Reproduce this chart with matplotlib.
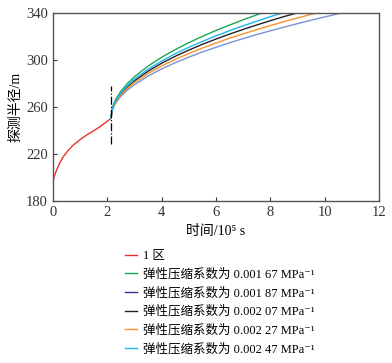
import matplotlib
matplotlib.use("Agg")
import matplotlib.pyplot as plt

plt.rcParams['font.family'] = ['Liberation Serif', 'Noto Sans CJK SC', 'DejaVu Sans']

# zone 1 (red)
t_red = [0, 0.05, 0.135, 0.25, 0.38, 0.55, 0.75, 1.0, 1.24, 1.5, 1.73, 2.0, 2.13]
r_red = [196.4, 201.0, 206.4, 212.5, 217.7, 222.8, 227.7, 232.3, 236.2, 239.9, 243.2, 248.0, 250.4]

# zone 2, different compressibility
t_167 = [2.13, 2.2, 2.3, 2.5, 2.75, 3.0, 3.5, 4.0, 4.5, 5.0, 5.5, 6.0, 6.5, 7.0, 7.5, 7.68]
r_167 = [250.4, 260.5, 266.1, 273.5, 280.3, 285.8, 294.9, 302.4, 308.9, 314.8, 320.2, 325.2, 329.8, 334.3, 338.5, 340.0]

t_187 = [2.13, 2.2, 2.3, 2.5, 2.75, 3.0, 3.5, 4.0, 4.5, 5.0, 5.5, 6.0, 6.5, 7.0, 7.5, 8.0, 8.5, 9.0, 9.5, 10.0, 10.5, 10.62]
r_187 = [250.4, 258.5, 263.1, 269.1, 274.6, 279.1, 286.4, 292.5, 297.7, 302.5, 306.9, 310.9, 314.7, 318.3, 321.7, 324.9, 328.0, 331.0, 333.9, 336.7, 339.4, 340.0]

t_207 = [2.13, 2.2, 2.3, 2.5, 2.75, 3.0, 3.5, 4.0, 4.5, 5.0, 5.5, 6.0, 6.5, 7.0, 7.5, 8.0, 8.5, 8.97]
r_207 = [250.4, 259.5, 264.5, 271.3, 277.4, 282.4, 290.5, 297.3, 303.2, 308.5, 313.4, 317.9, 322.1, 326.1, 329.9, 333.5, 337.0, 340.0]

t_227 = [2.13, 2.2, 2.3, 2.5, 2.75, 3.0, 3.5, 4.0, 4.5, 5.0, 5.5, 6.0, 6.5, 7.0, 7.5, 8.0, 8.5, 9.0, 9.5, 9.7]
r_227 = [250.4, 259.0, 263.8, 270.2, 276.1, 280.8, 288.6, 295.0, 300.6, 305.6, 310.2, 314.5, 318.6, 322.3, 325.9, 329.4, 332.7, 335.8, 338.9, 340.0]

t_247 = [2.13, 2.2, 2.3, 2.5, 2.75, 3.0, 3.5, 4.0, 4.5, 5.0, 5.5, 6.0, 6.5, 7.0, 7.5, 8.0, 8.42]
r_247 = [250.4, 259.8, 265.1, 272.1, 278.5, 283.7, 292.2, 299.2, 305.4, 310.9, 315.9, 320.6, 325.0, 329.2, 333.1, 336.9, 340.0]

labels = ['1 区',
          '弹性压缩系数为 0.001 67 MPa⁻¹',
          '弹性压缩系数为 0.001 87 MPa⁻¹',
          '弹性压缩系数为 0.002 07 MPa⁻¹',
          '弹性压缩系数为 0.002 27 MPa⁻¹',
          '弹性压缩系数为 0.002 47 MPa⁻¹']

t_break = 2.13
break_span = [229, 278]

fig = plt.figure(figsize=(3.92, 3.63), dpi=100)
ax = fig.add_axes([0.135, 0.446, 0.832, 0.518])

lw = 1.0
ax.plot(t_red, r_red, color='#e8322d', lw=lw, label=labels[0])
ax.plot(t_167, r_167, color='#1aa655', lw=lw, label=labels[1])
ax.plot(t_187, r_187, color='#7b93d6', lw=lw, label=labels[2])
ax.plot(t_207, r_207, color='#222222', lw=lw, label=labels[3])
ax.plot(t_227, r_227, color='#f7912f', lw=lw, label=labels[4])
ax.plot(t_247, r_247, color='#1eb4f0', lw=lw, label=labels[5])
ax.plot([t_break, t_break], break_span, color='black', lw=0.9, ls='-.')

ax.set_xlim(0, 12)
ax.set_ylim(180, 340)
ax.set_xticks(range(0, 13, 2))
ax.set_yticks(range(180, 341, 40))
ax.tick_params(direction='in', length=3, width=0.8, labelsize=10.5, colors='#333333')
for s in ax.spines.values():
    s.set_color('#555555')
    s.set_linewidth(1.0)

ax.set_xlabel('时间/10⁵ s', fontsize=10, labelpad=4)
ax.set_ylabel('探测半径/m', fontsize=10, labelpad=3)

leg = fig.legend(loc='upper left', bbox_to_anchor=(0.305, 0.325), frameon=False,
                 fontsize=9, handlelength=1.0, handletextpad=0.45, labelspacing=0.5,
                 borderaxespad=0)
leg.legend_handles[2].set_color('#2e3192')

fig.savefig('out.png', dpi=100)
plt.close(fig)
